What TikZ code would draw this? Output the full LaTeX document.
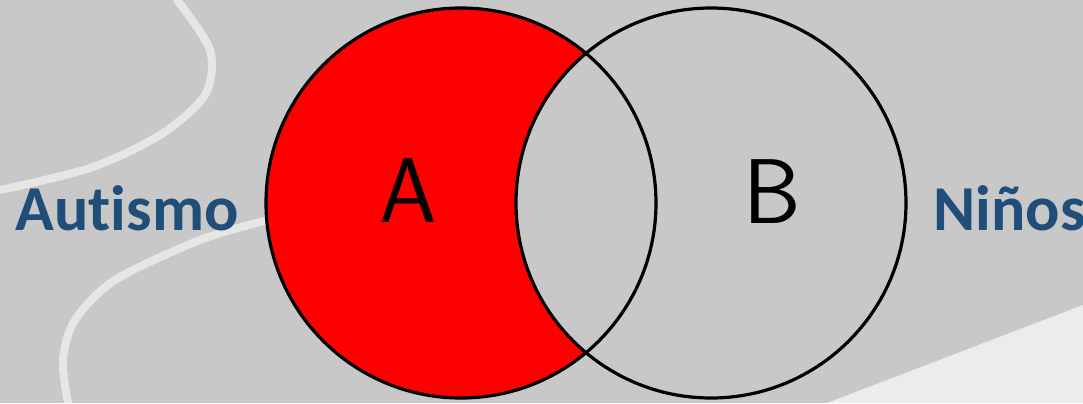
\documentclass[tikz,border=0pt]{standalone}
\usepackage{fontspec}
\newfontfamily\labelfont{Carlito}[Ligatures={NoCommon}]
\usetikzlibrary{positioning}
\definecolor{bggray}{RGB}{200,200,200}
\definecolor{bandwhite}{RGB}{236,236,236}
\definecolor{labelblue}{RGB}{31,78,121}
\definecolor{setred}{RGB}{255,0,0}

\begin{document}
\begin{tikzpicture}[
    x=0.5pt, y=-0.5pt,
    setcircle/.style={draw, circle, line width=1.6pt, minimum size=195pt, inner sep=0pt},
    setname/.style={font=\sffamily\fontsize{46}{46}\selectfont, anchor=base, inner sep=0pt},
    setlabel/.style={font=\labelfont\bfseries\fontsize{32}{32}\selectfont, text=labelblue, anchor=base west, inner sep=0pt},
    chalk/.style={white, opacity=0.55, line width=4pt, line cap=round},
  ]
  \useasboundingbox (0,0) rectangle (1083,403);
  % background
  \fill[bggray] (0,0) rectangle (1083,403);
  \fill[bandwhite] (827,403) -- (1083,305) -- (1083,403) -- cycle;
  \draw[chalk] plot[smooth] coordinates {(177,0) (210,50) (205,95) (160,135) (90,168) (0,190)};
  \draw[chalk] plot[smooth] coordinates {(268,220) (200,240) (115,280) (75,320) (63,360) (68,403)};
  % sets
  \coordinate (ca) at (461,203);
  \coordinate (cb) at (711,203);
  \fill[setred] (ca) circle[radius=97.5pt];
  \begin{scope}
    \clip (ca) circle[radius=97.5pt];
    \fill[bggray] (cb) circle[radius=97.5pt];
  \end{scope}
  \node[setcircle] (a) at (ca) {};
  \node[setcircle] (b) at (cb) {};
  \node[setname] (aname) at (408,222) {A};
  \node[setname] (bname) at (772,223) {B};
  % labels
  \node[setlabel] (autismo) at (15,230) {Autismo};
  \node[setlabel] (ninos) at (933,230) {Niños};
\end{tikzpicture}
\end{document}
